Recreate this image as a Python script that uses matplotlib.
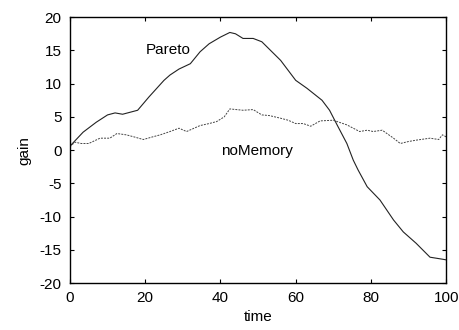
import matplotlib
matplotlib.use("Agg")
import matplotlib.pyplot as plt

plt.rcParams['font.family'] = ['Liberation Sans', 'DejaVu Sans']
plt.rcParams['axes.unicode_minus'] = False

pareto_t = [0, 3.5, 7, 10, 12, 14, 18, 21, 25, 26.6, 29, 32, 34.6, 37, 40, 42.5, 44, 46, 48.7, 51, 56, 60, 63, 67, 69, 71, 73.6, 75.3, 76.6, 79, 82.4, 86, 88.6, 92, 95.7, 99, 100]
pareto_g = [0.6, 2.7, 4.2, 5.3, 5.6, 5.4, 6.0, 8.0, 10.5, 11.3, 12.2, 13.0, 14.8, 16.0, 17.0, 17.7, 17.5, 16.8, 16.8, 16.3, 13.5, 10.5, 9.3, 7.5, 6.0, 3.8, 1.0, -1.5, -3.0, -5.5, -7.5, -10.5, -12.3, -14.0, -16.1, -16.4, -16.5]

nomem_t = [0, 1.3, 3, 5, 8, 10.6, 12.5, 15, 17, 19.5, 22, 24, 26.6, 29, 31, 34.6, 37, 39, 41, 42.5, 46, 48.7, 51, 53, 56, 58, 60, 62, 64, 66.5, 70, 73.6, 77, 79, 80.6, 83, 86, 87.8, 90, 92, 95.7, 98, 99, 100]
nomem_g = [0.5, 1.2, 1.0, 1.0, 1.8, 1.8, 2.5, 2.3, 2.0, 1.6, 2.0, 2.3, 2.8, 3.3, 2.8, 3.7, 4.0, 4.3, 5.0, 6.2, 6.0, 6.1, 5.3, 5.2, 4.8, 4.5, 4.0, 4.0, 3.6, 4.4, 4.5, 3.8, 2.8, 3.0, 2.8, 3.0, 1.8, 1.0, 1.3, 1.5, 1.8, 1.6, 2.3, 2.0]

xticks = [0, 20, 40, 60, 80, 100]
yticks = [-20, -15, -10, -5, 0, 5, 10, 15, 20]

fs = 11
fig = plt.figure(figsize=(4.6, 3.3), dpi=100)
ax = fig.add_axes([0.152, 0.142, 0.818, 0.806])
ax.plot(pareto_t, pareto_g, color='#222222', lw=0.8)
ax.plot(nomem_t, nomem_g, color='#444444', lw=0.7, linestyle=(0, (2, 1.2)))
ax.set_xlim(0, 100)
ax.set_ylim(-20, 20)
ax.set_xticks(xticks)
ax.set_yticks(yticks)
ax.tick_params(direction='in', top=True, right=True, labelsize=fs, length=3, width=0.8)
ax.tick_params(axis='x', pad=6)
ax.tick_params(axis='y', pad=6)
for s in ax.spines.values():
    s.set_linewidth(1.0)
ax.set_xlabel('time', fontsize=fs, labelpad=3)
ax.set_ylabel('gain', fontsize=fs, labelpad=6)
ax.text(26, 15.0, 'Pareto', fontsize=fs, ha='center', va='center')
ax.text(40.2, -0.2, 'noMemory', fontsize=fs, ha='left', va='center')
fig.savefig('out.png', dpi=100)
